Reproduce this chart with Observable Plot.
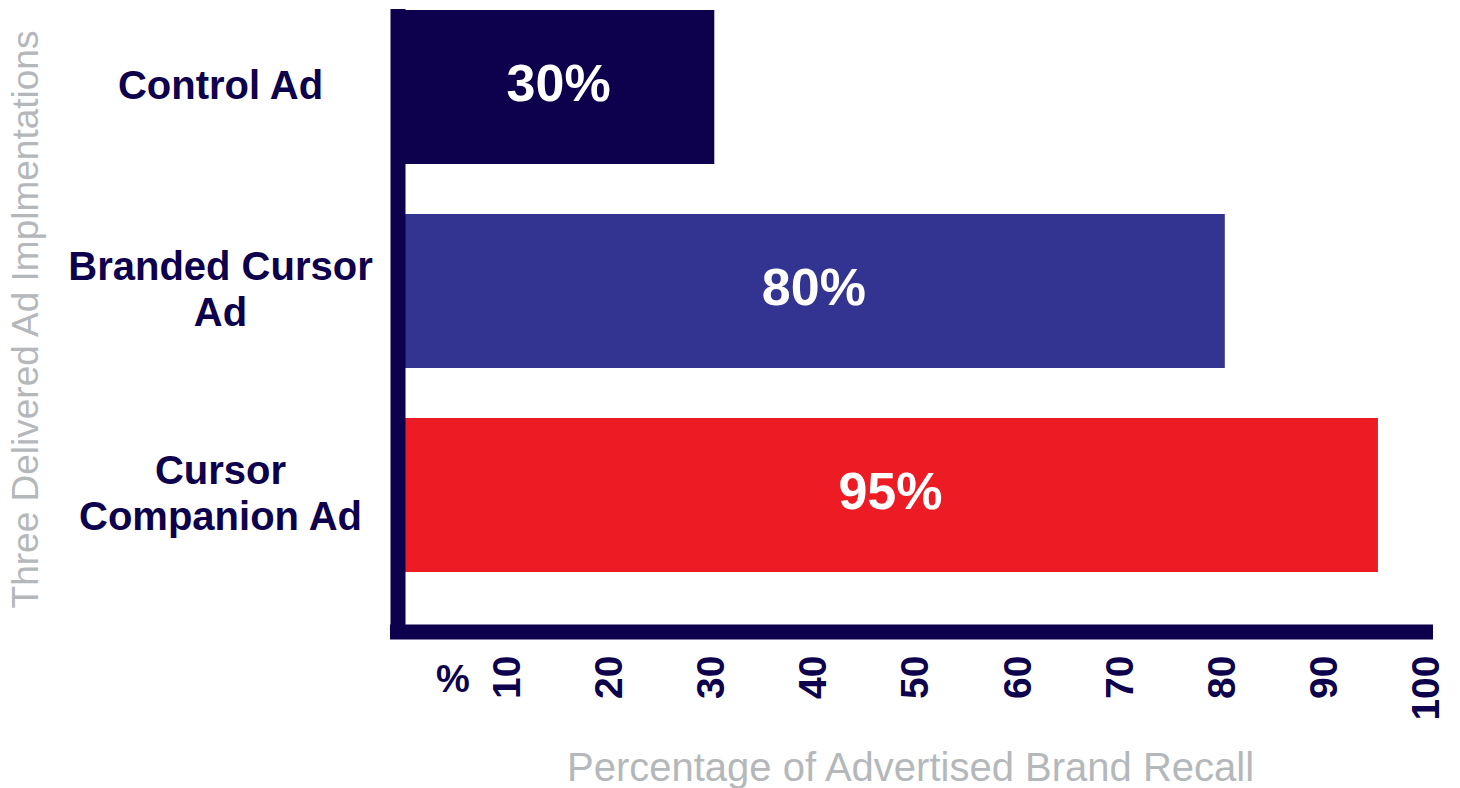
<!DOCTYPE html>
<html>
<head>
<meta charset="utf-8">
<script src="https://cdn.jsdelivr.net/npm/d3@7"></script>
<script src="https://cdn.jsdelivr.net/npm/@observablehq/plot@0.6"></script>
<style>
  html, body { margin: 0; padding: 0; background: #ffffff; }
  #chart svg { display: block; }
</style>
</head>
<body>
<div id="chart"></div>
<script>
// ---- data ----
const categories = ["Control Ad", "Branded Cursor Ad", "Cursor Companion Ad"];
const categoryLabels = ["Control Ad", "Branded Cursor\nAd", "Cursor\nCompanion Ad"];
const recall = [30, 80, 95];
const barColors = ["#0D004C", "#333391", "#ED1C24"];
const xTicks = [10, 20, 30, 40, 50, 60, 70, 80, 90, 100];
const unitLabel = "%";
const xTitle = "Percentage of Advertised Brand Recall";
const yTitle = "Three Delivered Ad Implmentations";

// ---- chart ----
const navy = "#0D004C";
const gray = "#B5B8BB";
const font = "'Liberation Sans', Arial, Helvetica, sans-serif";
const data = categories.map((c, i) => ({category: c, value: recall[i], color: barColors[i]}));

const chart = Plot.plot({
  width: 1460,
  height: 788,
  marginTop: 9,
  marginBottom: 216,
  marginLeft: 408,
  marginRight: 31,
  style: {fontFamily: font, background: "#ffffff", overflow: "visible"},
  x: {domain: [0, 100], label: null},
  y: {domain: categories, paddingInner: 0.247, paddingOuter: 0, label: null},
  color: {type: "identity"},
  marks: [
    Plot.barX(data, {y: "category", x: "value", fill: "color", insetLeft: -3}),
    Plot.text(data, {
      y: "category", x: d => d.value / 2, text: d => d.value + "%",
      fill: "#ffffff", fontSize: 52, fontWeight: "bold", lineAnchor: "middle", dx: -3, dy: -3
    }),
    Plot.ruleX([0], {stroke: navy, strokeWidth: 15, dx: -10.5, insetBottom: -67}),
    Plot.ruleY([categories[categories.length - 1]], {stroke: navy, strokeWidth: 15, dy: 136.5, insetLeft: -18, insetRight: -4}),
    Plot.axisY({
      tickSize: 0, tickPadding: 0, textAnchor: "middle", dx: -188, dy: -3,
      fontSize: 40, fontWeight: "bold", fill: navy, lineHeight: 1.15,
      tickFormat: d => categoryLabels[categories.indexOf(d)], label: null
    }),
    Plot.axisX({
      ticks: xTicks, tickRotate: -90, tickSize: 0, tickPadding: 83,
      fontSize: 39, fontWeight: "bold", fill: navy, dx: -3,
      tickFormat: d => String(d), label: null
    }),
    Plot.text([unitLabel], {
      frameAnchor: "bottom-left", textAnchor: "middle", dx: 44.5, dy: 107.5, lineAnchor: "middle",
      fontSize: 38, fontWeight: "bold", fill: navy
    }),
    Plot.text([xTitle], {
      frameAnchor: "bottom", textAnchor: "middle", dx: -8.5, dy: 195.5, lineAnchor: "middle",
      fontSize: 40, fill: gray
    }),
    Plot.text([yTitle], {
      frameAnchor: "left", textAnchor: "middle", rotate: -90, dx: -382, dy: 28.5, lineAnchor: "middle",
      fontSize: 37, fill: gray
    })
  ]
});
document.getElementById("chart").appendChild(chart);
</script>
</body>
</html>
